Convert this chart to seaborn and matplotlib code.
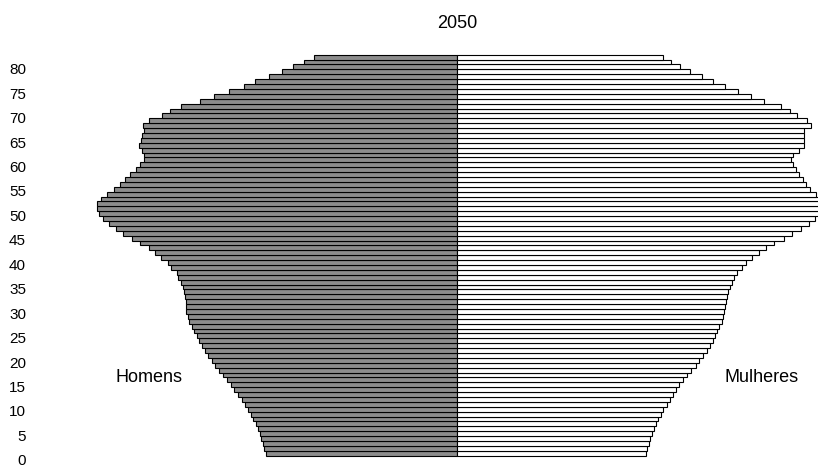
import seaborn as sns
import matplotlib.pyplot as plt
import pandas as pd


idades = list(range(0, 82))

homens = [191.3, 193, 194.3, 195.7, 197.3, 199.3, 201.3, 203.7, 206.3, 209,
          212, 215.3, 218.7, 222.7, 226.3, 230.3, 234.3, 238.3, 241.7, 245.3,
          248.7, 252, 255, 257.7, 260.3, 262.7, 265.3, 268,
          269.3, 270.7, 270.7, 271, 272, 272.7, 274, 275.7, 278.7, 280.3,
          286, 289, 295.7, 301.7, 308, 316.7, 324.7, 333.7, 341, 348,
          353.7, 358, 360, 360, 356, 349.7, 343.3,
          336.7, 332.3, 327.3, 321.3, 316.7, 312.7, 312.7, 315.3, 318, 316.3,
          314.7, 313, 313.7, 308, 294.7, 286.7, 275.7, 256.7, 242.7, 227.7,
          213.3, 201.7, 188, 175.3, 164.3, 153.3, 143]

mulheres = [188.7, 190, 191.7, 193, 195, 197, 199, 201.3, 203.7, 206.3,
            209.7, 212.7, 215.7, 219, 222.3, 226.3, 230.3, 233.7, 238.7, 242.3,
            246, 249.7, 253, 255.7, 258, 260.3, 262.3, 264.7,
            265.7, 267, 267.7, 268.7, 269.7, 271, 272.7, 274.7, 277, 280.3,
            285, 289, 295.3, 301.7, 309, 317, 327.3, 335, 343.7, 352,
            358.3, 366, 369, 368, 364, 358.5, 353.3,
            349.2, 345.5, 342, 338.5, 335.7, 334.2, 335.7, 342, 347, 347,
            347, 347, 353.5, 350, 340.3, 333.2, 323.8, 307.3, 294.2, 280.5,
            268.2, 255.7, 245.2, 232.7, 222.7, 213.7, 205.5]

marcas_idade = list(range(0, 81, 5))

df = pd.DataFrame({
    'idade': idades * 2,
    'populacao': [-v for v in homens] + mulheres,
    'sexo': ['Homens'] * len(idades) + ['Mulheres'] * len(idades),
})

sns.set_style('white')
plt.rcParams['font.family'] = ['Liberation Sans', 'DejaVu Sans']
plt.rcParams['text.color'] = 'black'
plt.rcParams['ytick.color'] = 'black'

fig = plt.figure(figsize=(8.18, 4.67), dpi=100)
ax = fig.add_axes([60 / 818, 0, 758 / 818, 427 / 467])

sns.barplot(data=df, x='populacao', y='idade', hue='sexo', orient='h',
            native_scale=True, dodge=False, width=1, errorbar=None,
            palette={'Homens': '#8c8c8c', 'Mulheres': 'white'},
            edgecolor='black', linewidth=0.8, legend=False, ax=ax)

ax.set_xlim(-397, 361)
ax.set_ylim(-2.81, 84.51)

# os rótulos do eixo ficam um pouco abaixo das barras, como no original
ax.set_yticks([a - 1.35 for a in marcas_idade])
ax.set_yticklabels([str(a) for a in marcas_idade])
ax.tick_params(axis='y', length=0, pad=24.5, labelsize=11, labelcolor='black')
ax.set_xticks([])
ax.set_xlabel('')
ax.set_ylabel('')
sns.despine(ax=ax, left=True, bottom=True)

ax.text(-308, 15.4, 'Homens', ha='center', va='center', fontsize=13, color='black')
ax.text(304.5, 15.4, 'Mulheres', ha='center', va='center', fontsize=13, color='black')

fig.text(457 / 818, 1 - 23 / 467, '2050', ha='center', va='center', fontsize=13, color='black')

plt.savefig('out.png', dpi=100)
